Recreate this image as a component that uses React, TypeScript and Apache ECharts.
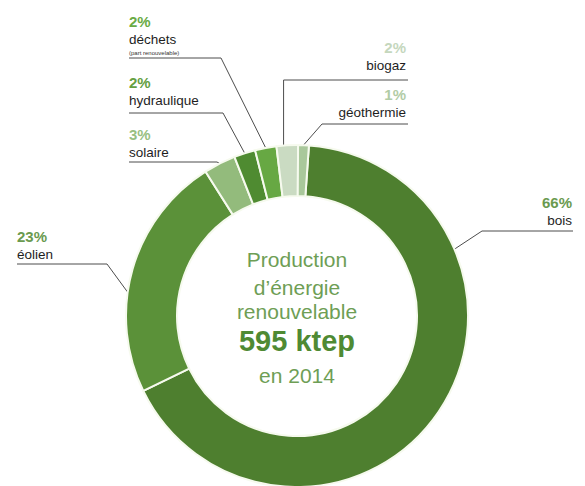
import React, { useEffect, useRef } from "react";
import * as echarts from "echarts";

// ---- data ----
const categories = ["bois", "éolien", "solaire", "hydraulique", "déchets", "biogaz", "géothermie"];
const shares = [66, 23, 3, 2, 2, 2, 1];
const percentLabels = ["66%", "23%", "3%", "2%", "2%", "2%", "1%"];
const notes = ["", "", "", "", "(part renouvelable)", "", ""];
const centerLines = ["Production", "d’énergie", "renouvelable", "595 ktep", "en 2014"];

// ---- styles ----
const sliceColors = ["#4e7f2f", "#5b9139", "#93bb7c", "#4f8b31", "#67a843", "#cadbc2", "#a9c89b"];
const percentColors = ["#6a9a4f", "#6a9a4f", "#98bf82", "#64a042", "#6aab45", "#c5d7bd", "#b2cca6"];
const FONT = "'Liberation Sans', Arial, sans-serif";

const CX = 297;
const CY = 316;
const R_IN = 120;
const R_OUT = 171;
const START_ANGLE = 86;

// label layout: text anchor x, underline y, elbow x, optional anchor angle (deg, clockwise from 12 o'clock)
type Spot = { align: "left" | "right"; x: number; lineY: number; lineEnd: number; elbowX: number | null; angle: number | null; dy: number };
const labelSpots: Spot[] = [
  { align: "right", x: 572, lineY: 231, lineEnd: 573, elbowX: 482, angle: 67, dy: -2 },
  { align: "left", x: 17, lineY: 264, lineEnd: 17, elbowX: 107, angle: 278, dy: -1 },
  { align: "left", x: 129, lineY: 162, lineEnd: 129, elbowX: 217, angle: null, dy: -1 },
  { align: "left", x: 129, lineY: 113, lineEnd: 129, elbowX: 223, angle: null, dy: -4 },
  { align: "left", x: 129, lineY: 58, lineEnd: 129, elbowX: 221, angle: null, dy: -1 },
  { align: "right", x: 406, lineY: 80, lineEnd: 408, elbowX: null, angle: 355.5, dy: -6 },
  { align: "right", x: 406, lineY: 124, lineEnd: 408, elbowX: 322, angle: null, dy: -3 },
];
const centerYs = [259.5, 287, 311, 340.5, 375.5];

function polar(deg: number): number[] {
  const a = (deg * Math.PI) / 180;
  return [CX + R_OUT * Math.sin(a), CY - R_OUT * Math.cos(a)];
}

export default function App() {
  const ref = useRef<HTMLDivElement>(null);
  useEffect(() => {
    if (!ref.current) return;
    const chart = echarts.init(ref.current, null, { renderer: "svg" });
    const total = shares.reduce((a, b) => a + b, 0);
    const clockStart = 90 - START_ANGLE;
    const midAngle = (i: number) => {
      let before = 0;
      for (let k = 0; k < i; k++) before += shares[k];
      return clockStart + ((before + shares[i] / 2) / total) * 360;
    };

    const rich: Record<string, any> = {};
    categories.forEach((_, i) => {
      const al = labelSpots[i].align;
      rich["p" + i] = { fontSize: 15, fontWeight: "bold", color: percentColors[i], lineHeight: 19, align: al, fontFamily: FONT };
      rich["n" + i] = { fontSize: 13.5, color: "#1e1e1e", lineHeight: 17, align: al, fontFamily: FONT };
      rich["s" + i] = { fontSize: 6, color: "#333333", lineHeight: 9, align: al, fontFamily: FONT };
    });

    chart.setOption({
      animation: false,
      backgroundColor: "#ffffff",
      graphic: centerLines.map((t, k) => ({
        type: "text",
        x: CX,
        y: centerYs[k],
        silent: true,
        style: {
          text: t,
          fill: k === 3 ? "#4f8a33" : "#6e9e55",
          fontSize: k === 3 ? 29 : 21,
          fontWeight: k === 3 ? "bold" : "normal",
          fontFamily: FONT,
          align: "center",
          verticalAlign: "middle",
        },
      })),
      series: [
        {
          type: "pie",
          center: [CX, CY],
          radius: [R_IN, R_OUT],
          startAngle: START_ANGLE,
          clockwise: true,
          avoidLabelOverlap: false,
          silent: true,
          emphasis: { disabled: true },
          itemStyle: { borderColor: "#f6faee", borderWidth: 2 },
          data: categories.map((c, i) => ({ name: c, value: shares[i], itemStyle: { color: sliceColors[i] } })),
          label: {
            show: true,
            position: "outside",
            rich,
            formatter: (p: any) => {
              const i = p.dataIndex;
              let s = `{p${i}|${percentLabels[i]}}\n{n${i}|${categories[i]}}`;
              if (notes[i]) s += `\n{s${i}|${notes[i]}}`;
              return s;
            },
          },
          labelLine: { show: true, length: 10, length2: 10, smooth: false, lineStyle: { color: "#4d4d4d", width: 1 } },
          labelLayout: (params: any) => {
            const i = params.dataIndex;
            const s = labelSpots[i];
            let anchor: number[];
            if (s.angle != null) anchor = polar(s.angle);
            else if (params.labelLinePoints && params.labelLinePoints[0]) anchor = params.labelLinePoints[0];
            else anchor = polar(midAngle(i));
            const elbowX = s.elbowX != null ? s.elbowX : anchor[0];
            return {
              x: s.x,
              y: s.lineY + s.dy,
              align: s.align,
              verticalAlign: "bottom",
              labelLinePoints: [anchor, [elbowX, s.lineY], [s.lineEnd, s.lineY]],
            };
          },
        },
      ],
    });
    return () => chart.dispose();
  }, []);
  return <div ref={ref} style={{ position: "fixed", left: 0, top: 0, width: 585, height: 486 }} />;
}
